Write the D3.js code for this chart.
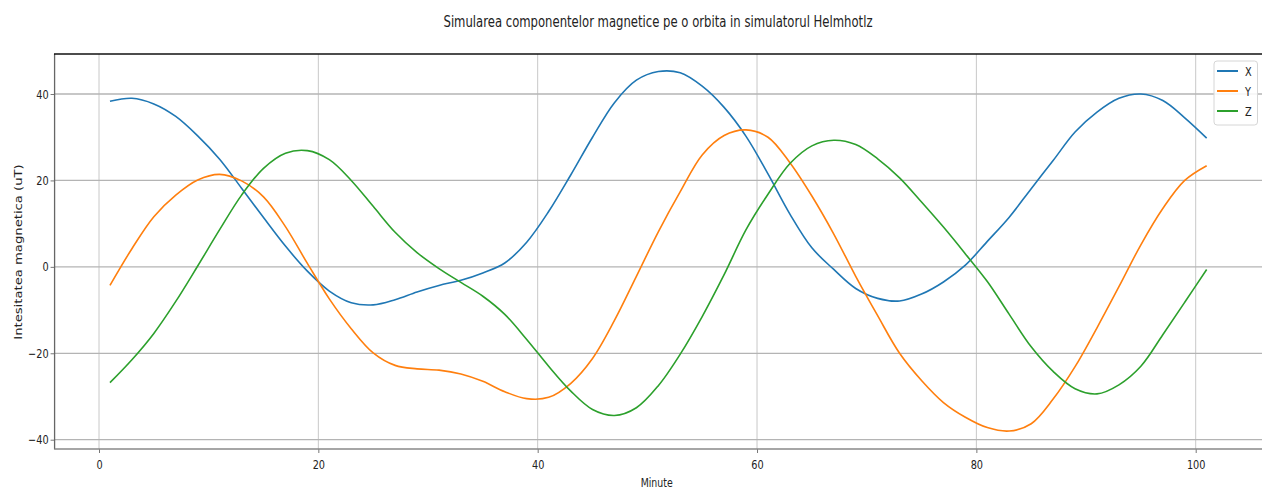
<!DOCTYPE html>
<html>
<head>
<meta charset="utf-8">
<script src="https://cdn.jsdelivr.net/npm/d3@7"></script>
<style>
  html, body { margin: 0; padding: 0; background: #fff; }
  svg { display: block; }
  text { font-family: "DejaVu Sans", sans-serif; fill: #222; }
</style>
</head>
<body>
<svg id="chart" width="1262" height="488"></svg>
<script>
// ---- data ----
const minutes = d3.range(1, 102, 2); // 1, 3, 5, ... 101
const seriesNames = ["X", "Y", "Z"];
const seriesColors = ["#1f77b4", "#ff7f0e", "#2ca02c"];
const valuesX = [38.3, 39.0, 37.7, 34.8, 30.3, 24.9, 18.2, 11.4, 4.8, -1.0,
  -5.6, -8.3, -8.8, -7.6, -5.8, -4.3, -3.1, -1.4, 0.9, 5.7,
  12.8, 21.2, 30.0, 38.0, 43.2, 45.2, 44.9, 41.8, 36.9, 30.2,
  21.5, 12.2, 4.4, -0.6, -5.0, -7.3, -7.9, -6.3, -3.5, 0.4,
  5.9, 11.5, 18.1, 24.6, 31.2, 35.8, 39.0, 40.0, 38.5, 34.5, 29.8];
const valuesY = [-4.3, 4.2, 11.6, 16.6, 20.1, 21.4, 19.9, 16.2, 9.3, 0.8,
  -7.4, -14.3, -19.9, -22.8, -23.6, -23.9, -24.8, -26.5, -28.9, -30.5,
  -30.2, -27.0, -21.2, -12.4, -2.2, 8.1, 17.4, 25.9, 30.4, 31.7,
  30.0, 24.1, 16.4, 7.6, -2.2, -11.3, -20.0, -26.3, -31.4, -34.8,
  -37.2, -38.0, -36.3, -30.6, -23.1, -14.1, -4.6, 5.1, 13.5, 20.0, 23.4];
const valuesZ = [-26.8, -21.5, -15.4, -8.0, 0.2, 8.6, 16.6, 22.8, 26.3, 26.9,
  24.8, 20.0, 14.0, 8.0, 3.3, -0.4, -3.6, -6.8, -11.0, -16.8,
  -23.0, -28.7, -33.0, -34.4, -32.6, -27.5, -20.2, -11.5, -1.8, 8.6,
  16.8, 23.9, 28.0, 29.3, 28.3, 25.0, 20.6, 15.0, 9.2, 3.0,
  -3.4, -11.0, -18.5, -24.2, -28.2, -29.4, -27.3, -23.0, -15.7, -8.2, -0.6];
const xTickValues = [0, 20, 40, 60, 80, 100];
const xTickLabels = ["0", "20", "40", "60", "80", "100"];
const yTickValues = [-40, -20, 0, 20, 40];
const yTickLabels = ["\u221240", "\u221220", "0", "20", "40"];
const titleText = "Simularea componentelor magnetice pe o orbita in simulatorul Helmhotlz";
const xLabelText = "Minute";
const yLabelText = "Intesitatea magnetica (uT)";

// ---- layout ----
const svg = d3.select("#chart");
const W = 1262;
const plotTop = 54, plotBottom = 449;
const x = d3.scaleLinear().domain([0, 100]).range([99, 1195.7]);
const y = d3.scaleLinear().domain([-40, 40]).range([439.7, 94]);
const plotLeft = x(-4.05);
const SX = 0.78; // horizontal squeeze of the text in the reference

// grid
const grid = svg.append("g");
grid.selectAll("line.vg").data(xTickValues).join("line")
  .attr("x1", d => x(d)).attr("x2", d => x(d))
  .attr("y1", plotTop).attr("y2", plotBottom)
  .attr("stroke", "#c8c8c8").attr("stroke-width", 1);
grid.selectAll("line.hg").data(yTickValues).join("line")
  .attr("x1", plotLeft).attr("x2", W)
  .attr("y1", d => y(d)).attr("y2", d => y(d))
  .attr("stroke", "#b4b4b4").attr("stroke-width", 1.3);

// lines
const series = [valuesX, valuesY, valuesZ];
const line = d3.line()
  .x((d, i) => x(minutes[i]))
  .y(d => y(d))
  .curve(d3.curveCatmullRom.alpha(0.5));
svg.append("g").selectAll("path").data(series).join("path")
  .attr("d", d => line(d))
  .attr("fill", "none")
  .attr("stroke", (d, i) => seriesColors[i])
  .attr("stroke-width", 1.6);

// axes
const yAxis = d3.axisLeft(y).tickValues(yTickValues)
  .tickFormat((d, i) => yTickLabels[i]).tickSize(4).tickPadding(2);
const gy = svg.append("g").attr("transform", `translate(${plotLeft},0)`).call(yAxis);
gy.select(".domain").remove();
gy.selectAll(".tick line").attr("stroke", "#777");
gy.selectAll(".tick text")
  .style("font-size", "12.5px")
  .attr("fill", "#222")
  .attr("x", -6 / SX)
  .attr("transform", `scale(${SX},1)`);

const xAxis = d3.axisBottom(x).tickValues(xTickValues)
  .tickFormat((d, i) => xTickLabels[i]).tickSize(4).tickPadding(7.5);
const gx = svg.append("g").attr("transform", `translate(0,${plotBottom})`).call(xAxis);
gx.select(".domain").remove();
gx.selectAll(".tick line").attr("stroke", "#777");
gx.selectAll(".tick text")
  .style("font-size", "12.5px")
  .attr("fill", "#222")
  .attr("transform", `scale(${SX},1)`);

// spines
svg.append("line").attr("x1", plotLeft).attr("x2", plotLeft)
  .attr("y1", plotTop).attr("y2", plotBottom + 0.6)
  .attr("stroke", "#666").attr("stroke-width", 1.3);
svg.append("line").attr("x1", plotLeft).attr("x2", W)
  .attr("y1", plotBottom).attr("y2", plotBottom)
  .attr("stroke", "#888").attr("stroke-width", 1.6);
svg.append("line").attr("x1", plotLeft - 0.6).attr("x2", W)
  .attr("y1", plotTop).attr("y2", plotTop)
  .attr("stroke", "#111").attr("stroke-width", 1.6);

// title & labels
svg.append("text")
  .attr("x", 658).attr("y", 26.5)
  .attr("text-anchor", "middle")
  .attr("textLength", 429).attr("lengthAdjust", "spacingAndGlyphs")
  .style("font-size", "15px")
  .text(titleText);
svg.append("text")
  .attr("x", 656.7).attr("y", 486.5)
  .attr("text-anchor", "middle")
  .attr("textLength", 32).attr("lengthAdjust", "spacingAndGlyphs")
  .style("font-size", "12px")
  .text(xLabelText);
svg.append("text")
  .attr("transform", "translate(21.5,252) rotate(-90) scale(1,0.87)")
  .attr("text-anchor", "middle")
  .attr("textLength", 175.5).attr("lengthAdjust", "spacingAndGlyphs")
  .style("font-size", "13px")
  .text(yLabelText);

// legend
const lg = svg.append("g");
lg.append("rect")
  .attr("x", 1214).attr("y", 61).attr("width", 43.5).attr("height", 64)
  .attr("rx", 3).attr("fill", "#fff").attr("fill-opacity", 0.85)
  .attr("stroke", "#d6d6d6").attr("stroke-width", 1);
const rows = lg.selectAll("g.row").data(seriesNames).join("g")
  .attr("transform", (d, i) => `translate(0,${71 + i * 20})`);
rows.append("line")
  .attr("x1", 1217).attr("x2", 1238).attr("y1", 0).attr("y2", 0)
  .attr("stroke", (d, i) => seriesColors[i]).attr("stroke-width", 2);
rows.append("text")
  .attr("transform", `translate(1245,4.5) scale(${SX},1)`)
  .style("font-size", "12.5px")
  .text(d => d);
</script>
</body>
</html>
